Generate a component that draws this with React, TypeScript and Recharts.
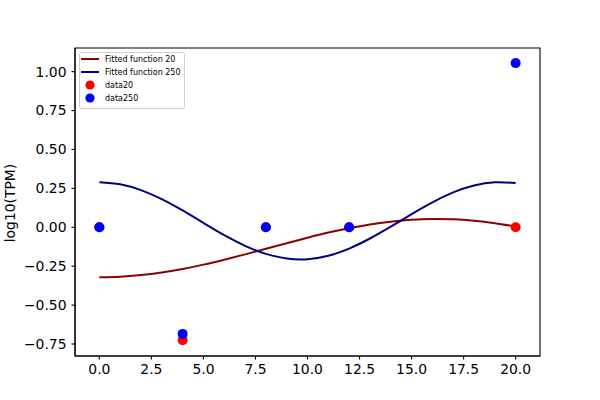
import { ComposedChart, Line, Scatter, XAxis, YAxis, Legend, ReferenceArea } from 'recharts'

// measured sample times and observed values
const sampleTimes = [0, 4, 8, 12, 20]
const data20 = [0, -0.725, 0, 0, 0]
const data250 = [0, -0.685, 0, 0, 1.055]

// fitted curves, every 1 unit
const fitTimes = [0, 1, 2, 3, 4, 5, 6, 7, 8, 9, 10, 11, 12, 13, 14, 15, 16, 17, 18, 19, 20]
const fit20 = [-0.321, -0.318, -0.307, -0.29, -0.268, -0.24, -0.208, -0.174, -0.138, -0.102, -0.067, -0.034, -0.006, 0.018, 0.036, 0.048, 0.053, 0.051, 0.042, 0.026, 0.005]
const fit250 = [0.29, 0.277, 0.239, 0.181, 0.108, 0.028, -0.051, -0.119, -0.171, -0.2, -0.205, -0.183, -0.137, -0.072, 0.004, 0.084, 0.16, 0.224, 0.268, 0.289, 0.284]

const xTicks = [0, 2.5, 5, 7.5, 10, 12.5, 15, 17.5, 20]
const yTicks = [-0.75, -0.5, -0.25, 0, 0.25, 0.5, 0.75, 1.0]

const X_DOMAIN: [number, number] = [-1.17, 21.17]
const Y_DOMAIN: [number, number] = [-0.827, 1.152]

const FONT = 'DejaVu Sans'
const tickStyle = { fill: '#000', fontSize: 13.9, fontFamily: FONT }

const scatter20 = sampleTimes.map((x, i) => ({ x, y: data20[i] }))
const scatter250 = sampleTimes.map((x, i) => ({ x, y: data250[i] }))
const line20 = fitTimes.map((x, i) => ({ x, y: fit20[i] }))
const line250 = fitTimes.map((x, i) => ({ x, y: fit250[i] }))

const fmtY = (v: number) => (v < 0 ? '\u2212' + Math.abs(v).toFixed(2) : v.toFixed(2))

const dot = (color: string) => (props: any) => <circle cx={props.cx} cy={props.cy} r={5} fill={color} />

function LegendBox() {
  const rows = [
    { label: 'Fitted function 20', color: '#8b0000', kind: 'line' },
    { label: 'Fitted function 250', color: '#000080', kind: 'line' },
    { label: 'data20', color: '#ff0000', kind: 'dot' },
    { label: 'data250', color: '#0000ff', kind: 'dot' },
  ]
  return (
    <svg width={106} height={57} style={{ display: 'block' }}>
      <rect x={0.5} y={0.5} width={105} height={56} rx={2} fill="rgba(255,255,255,0.8)" stroke="#d0d0d0" />
      {rows.map((r, i) => {
        const cy = 7 + i * 13
        return (
          <g key={r.label}>
            {r.kind === 'line' ? (
              <line x1={2} x2={20} y1={cy} y2={cy} stroke={r.color} strokeWidth={2} />
            ) : (
              <circle cx={11} cy={cy} r={4.6} fill={r.color} />
            )}
            <text x={26} y={cy + 2.9} fontSize={8} fontFamily={FONT} fill="#000">
              {r.label}
            </text>
          </g>
        )
      })}
    </svg>
  )
}

export default function App() {
  return (
    <div style={{ position: 'absolute', left: 0, top: 0, width: 600, height: 400, background: '#fff' }}>
      <ComposedChart width={600} height={400} margin={{ top: 48, right: 60, bottom: 0, left: 0 }}>
        <XAxis
          type="number"
          dataKey="x"
          domain={X_DOMAIN}
          ticks={xTicks}
          allowDataOverflow
          height={44}
          tickSize={3.5}
          tickMargin={5}
          tick={tickStyle}
          tickFormatter={(v: number) => v.toFixed(1)}
          axisLine={{ stroke: '#000', strokeWidth: 1.1 }}
          tickLine={{ stroke: '#000', strokeWidth: 1.1 }}
        />
        <YAxis
          type="number"
          dataKey="y"
          domain={Y_DOMAIN}
          ticks={yTicks}
          allowDataOverflow
          width={75}
          tickSize={3.5}
          tickMargin={5}
          tick={tickStyle}
          tickFormatter={fmtY}
          axisLine={{ stroke: '#000', strokeWidth: 1.1 }}
          tickLine={{ stroke: '#000', strokeWidth: 1.1 }}
          label={() => (
            <text x={15} y={203} transform="rotate(-90 15 203)" textAnchor="middle" fontSize={13.9} fontFamily={FONT} fill="#000">
              log10(TPM)
            </text>
          )}
        />
        <ReferenceArea
          x1={X_DOMAIN[0]}
          x2={X_DOMAIN[1]}
          y1={Y_DOMAIN[0]}
          y2={Y_DOMAIN[1]}
          fill="none"
          stroke="#000"
          strokeWidth={1.1}
          ifOverflow="visible"
        />
        <Scatter name="data20" data={scatter20} fill="#ff0000" shape={dot('#ff0000')} isAnimationActive={false} />
        <Scatter name="data250" data={scatter250} fill="#0000ff" shape={dot('#0000ff')} isAnimationActive={false} />
        <Line name="Fitted function 20" data={line20} dataKey="y" type="natural" stroke="#8b0000" strokeWidth={2} dot={false} activeDot={false} isAnimationActive={false} />
        <Line name="Fitted function 250" data={line250} dataKey="y" type="natural" stroke="#000080" strokeWidth={2} dot={false} activeDot={false} isAnimationActive={false} />
        <Legend
          layout="vertical"
          align="center"
          verticalAlign="middle"
          wrapperStyle={{ left: 79, top: 52, width: 106, height: 57 }}
          content={() => <LegendBox />}
        />
      </ComposedChart>
    </div>
  )
}
